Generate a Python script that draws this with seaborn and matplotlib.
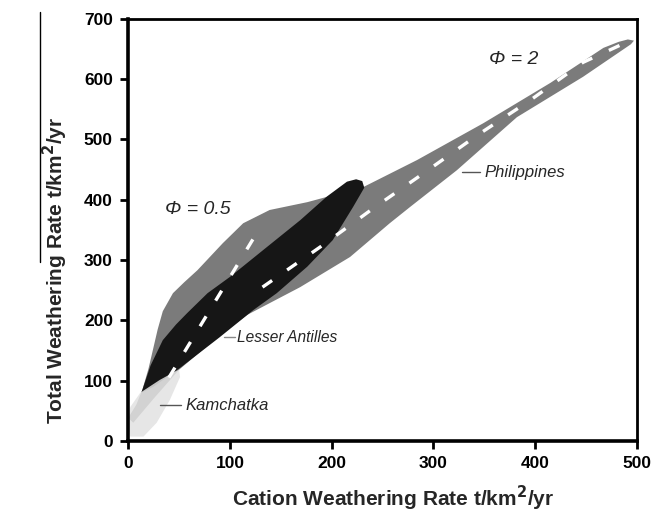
import numpy as np
import pandas as pd
import matplotlib
matplotlib.use("Agg")
import matplotlib.pyplot as plt
from matplotlib.lines import Line2D
import seaborn as sns

# envelope outlines (cation rate, total rate)
phil_x = [0, 8, 14, 20, 25, 29, 34, 44, 55, 68, 93, 113, 139, 176, 231, 284, 349, 415, 467, 482,
          491, 497, 494, 447, 382, 323, 277, 257, 218, 169, 117, 90, 50, 25, 5]
phil_y = [38, 60, 85, 120, 156, 185, 215, 245, 263, 283, 328, 361, 383, 396, 421, 466, 527, 594, 652, 662,
          666, 664, 658, 604, 537, 449, 388, 361, 305, 255, 209, 175, 118, 70, 30]

antilles_x = [13, 22, 34, 47, 58, 78, 100, 133, 169, 195, 215, 224, 230, 232, 221, 201, 176, 146, 123, 90, 51, 25]
antilles_y = [80, 125, 167, 193, 212, 245, 272, 317, 366, 405, 430, 434, 431, 420, 388, 333, 289, 245, 217, 172, 121, 90]

kam_x = [0, 2, 12, 31, 45, 50, 51, 41, 28, 15, 2, 0]
kam_y = [35, 56, 80, 101, 114, 118, 106, 68, 30, 7, 7, 23]

# reference lines
phi05_x = [40, 130]
phi05_y = [105, 355]
phi2_x = [132, 189, 241, 292, 343, 395, 447, 488]
phi2_y = [255, 322, 386, 446, 507, 565, 628, 660]

sns.set_theme(style="white")
plt.rcParams["font.family"] = ["Liberation Sans", "DejaVu Sans"]

fig = plt.figure(figsize=(6.54, 5.12), dpi=100)
ax = fig.add_axes([0.196, 0.139, 0.778, 0.824])

ax.fill(phil_x, phil_y, color="#7b7b7b", lw=0)
ax.fill(antilles_x, antilles_y, color="#161616", lw=0)
ax.fill(kam_x, kam_y, color="#e2e2e2", alpha=0.85, lw=0)

sns.lineplot(x=phi05_x, y=phi05_y, sort=False, color="white", lw=2.4,
             linestyle=(0, (3.5, 5.5)), ax=ax)
sns.lineplot(x=phi2_x, y=phi2_y, sort=False, color="white", lw=2.4,
             linestyle=(0, (3.5, 5.5)), ax=ax)

# labels with leader lines
ax.plot([328, 346], [446, 446], color="#555555", lw=1)
ax.text(350, 446, "Philippines", fontsize=12, style="italic", va="center")
ax.plot([94, 105], [172, 172], color="#888888", lw=1)
ax.text(107, 171, "Lesser Antilles", fontsize=11.2, style="italic", va="center")
ax.plot([31, 52], [60, 60], color="#555555", lw=1)
ax.text(56, 58, "Kamchatka", fontsize=12, style="italic", va="center")
ax.text(68, 383, "Φ = 0.5", fontsize=14, style="italic", ha="center", va="center")
ax.text(379, 632, "Φ = 2", fontsize=14, style="italic", ha="center", va="center")

ax.set_xlim(0, 500)
ax.set_ylim(0, 700)
ax.set_xticks(range(0, 501, 100))
ax.set_yticks(range(0, 701, 100))
ax.tick_params(direction="out", length=6, width=2, labelsize=12.5, pad=5,
               bottom=True, left=True, colors="black")
for lab in ax.get_xticklabels() + ax.get_yticklabels():
    lab.set_fontweight("bold")
for side in ["left", "bottom"]:
    ax.spines[side].set_linewidth(2.6)
for side in ["top", "right"]:
    ax.spines[side].set_linewidth(2)
for s in ax.spines.values():
    s.set_color("black")

ax.set_xlabel("Cation Weathering Rate t/km$^\\mathbf{2}$/yr", fontsize=15, fontweight="bold")
ax.set_ylabel("Total Weathering Rate t/km$^\\mathbf{2}$/yr", fontsize=15, fontweight="bold")
ax.xaxis.set_label_coords(0.52, -0.101)
ax.yaxis.set_label_coords(-0.115, 0.405)

fig.add_artist(Line2D([0.061, 0.061], [0.488, 0.977], color="black", lw=1,
                      transform=fig.transFigure))

fig.savefig("out.png", dpi=100)
